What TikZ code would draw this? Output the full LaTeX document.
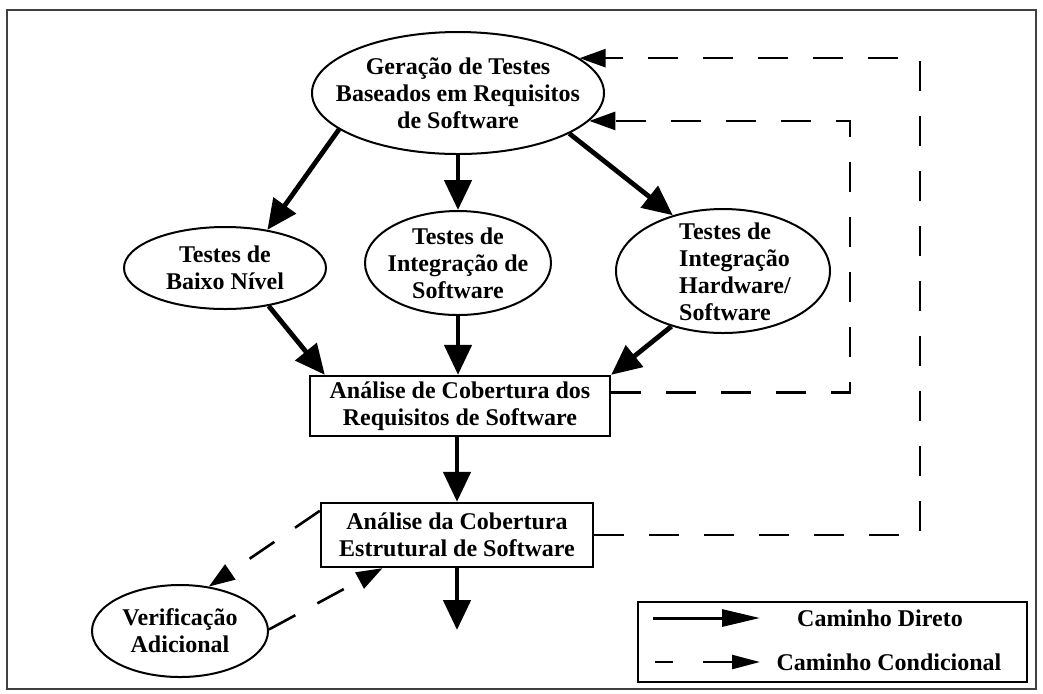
\documentclass[tikz,border=0pt]{standalone}
\usepackage{fontspec}
\setmainfont{Liberation Serif}
\usetikzlibrary{arrows.meta,shapes.geometric}
\tikzset{
  oval/.style={draw, line width=1pt, ellipse, inner sep=0pt},
  boxnode/.style={draw, line width=1.2pt, rectangle, inner sep=0pt},
  txt/.style={font=\bfseries\fontsize{12}{13.5}\selectfont, align=center, inner sep=0pt},
  direct/.style={line width=2.4pt, -{Triangle[length=15pt,width=13.5pt]}},
  cond/.style={line width=1.3pt, dash pattern=on 15pt off 12.5pt, -{Triangle[length=13pt,width=9pt]}},
}
\begin{document}
\begin{tikzpicture}[x=0.5pt,y=-0.5pt]
\useasboundingbox (0,0) rectangle (1043,693);
\fill[white] (0,0) rectangle (1043,693);
\draw[black!75, line width=1pt] (7,10) rectangle (1036,689);

% nodes
\node[oval, minimum width=146pt, minimum height=61pt] (top) at (458,93) {};
\node[txt] (topT) at (top) {Geração de Testes\\Baseados em Requisitos\\de Software};

\node[oval, minimum width=101pt, minimum height=41pt] (low) at (225,268) {};
\node[txt] (lowT) at (low) {Testes de\\Baixo Nível};

\node[oval, minimum width=93pt, minimum height=52pt] (mid) at (458,263) {};
\node[txt] (midT) at (mid) {Testes de\\Integração de\\Software};

\node[oval, minimum width=107pt, minimum height=62pt] (right) at (723,271) {};
\node[txt, align=left] (rightT) at (735,272) {Testes de\\Integração\\Hardware/\\Software};

\node[boxnode, minimum width=150pt, minimum height=30pt] (box1) at (460,406) {};
\node[txt] (box1T) at (box1) {Análise de Cobertura dos\\Requisitos de Software};

\node[boxnode, minimum width=136pt, minimum height=32pt] (box2) at (457,535) {};
\node[txt] (box2T) at (box2) {Análise da Cobertura\\Estrutural de Software};

\node[oval, minimum width=88pt, minimum height=46pt] (verif) at (180,631) {};
\node[txt] (verifT) at (verif) {Verificação\\Adicional};

\coordinate (out) at (457,630);
\coordinate (c1) at (850,300);
\coordinate (c2) at (920,300);

% direct arrows
\draw[direct] (top.197.4) -- (low.42);
\draw[direct] (top.south) -- (mid.north);
\draw[direct] (top.-20) -- (right.132);
\draw[direct] (low.-41) -- (box1.167);
\draw[direct] (mid.south) -- (mid.south |- box1.north);
\draw[direct] (right.227) -- (box1.north east);
\draw[direct] (box2.north |- box1.south) -- (box2.north);
\draw[direct] (box2.south) -- (out);

% conditional arrows
\draw[cond] (box1.5) -| (c1) |- (top.-12.7);
\draw[cond] (box2.east) -| (c2) |- (top.16.3);
\draw[cond] (box2.170) -- (verif.57);
\draw[cond] (verif.1) -- (box2.204);

% legend
\node[draw, line width=1pt, minimum width=194.5pt, minimum height=40pt, inner sep=0pt] (legend) at (832.5,642) {};
\coordinate (l1a) at (653,618);
\coordinate (l1b) at (760,618);
\coordinate (l2a) at (655,662);
\coordinate (l2b) at (760,662);
\draw[line width=1.5pt, -{Triangle[length=19pt,width=8.5pt]}] (l1a) -- (l1b);
\draw[line width=1.2pt, dash pattern=on 9pt off 15pt on 30pt, -{Triangle[length=14pt,width=7pt]}] (l2a) -- (l2b);
\node[txt] (leg1) at (880,618) {Caminho Direto};
\node[txt] (leg2) at (889,662) {Caminho Condicional};
\end{tikzpicture}
\end{document}
